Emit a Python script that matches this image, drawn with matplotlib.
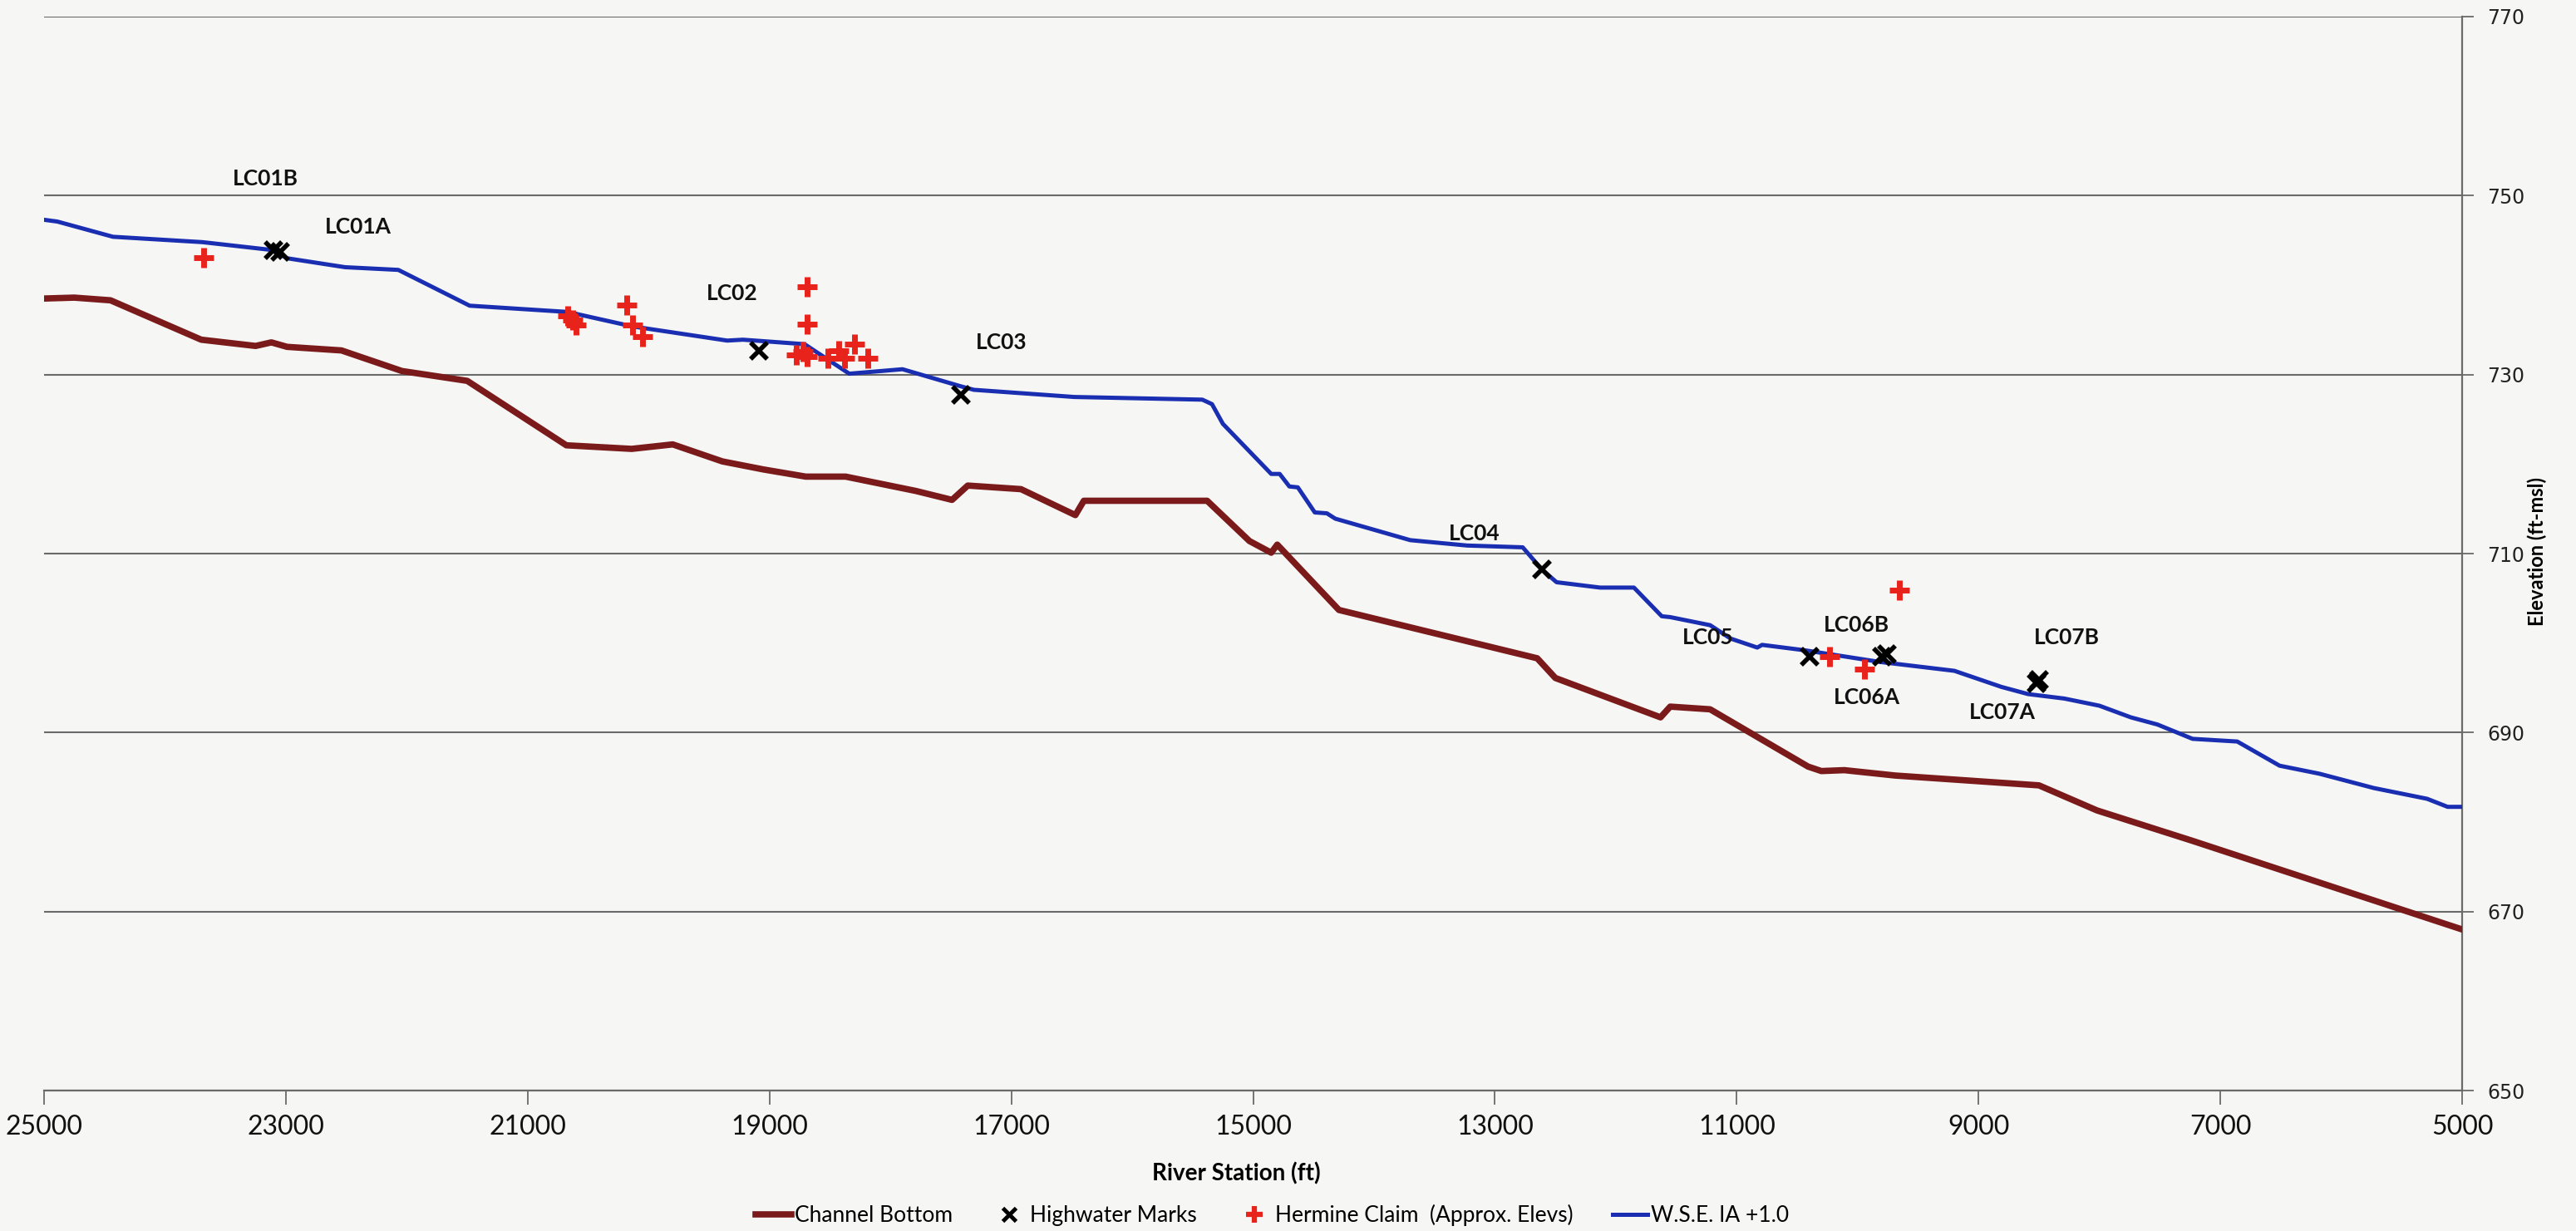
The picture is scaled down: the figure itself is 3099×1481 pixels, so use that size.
import numpy as np
import matplotlib
matplotlib.use('Agg')
import matplotlib.pyplot as plt
from matplotlib.lines import Line2D

# channel bottom profile
cb_sta = [25000, 24750, 24450, 23700, 23250, 23120, 22990, 22540, 22040, 21500,
          20680, 20140, 19800, 19390, 19050, 18700, 18490, 18370, 17790, 17490,
          17360, 16920, 16470, 16400, 15380, 15030, 14850, 14800, 14290, 12650,
          12500, 11630, 11550, 11220, 10410, 10300, 10110, 9690, 8500, 8020,
          7230, 5000]
cb_elev = [738.5, 738.6, 738.3, 733.9, 733.2, 733.6, 733.1, 732.7, 730.4, 729.3,
           722.1, 721.7, 722.2, 720.3, 719.4, 718.6, 718.6, 718.6, 717.0, 716.0,
           717.6, 717.2, 714.3, 715.9, 715.9, 711.4, 710.1, 711.0, 703.7, 698.3,
           696.1, 691.7, 692.9, 692.6, 686.2, 685.7, 685.8, 685.2, 684.1, 681.3,
           677.9, 668.0]

# water surface elevation
ws_sta = [25000, 24890, 24430, 23690, 23100, 22990, 22510, 22070, 21760, 21480,
          20670, 20140, 19350, 19220, 18710, 18340, 17900, 17420, 17310, 16480,
          15420, 15340, 15250, 14850, 14780, 14700, 14630, 14490, 14390, 14320,
          13700, 13230, 12770, 12610, 12490, 12130, 11850, 11620, 11550, 11220,
          11050, 10830, 10790, 10440, 9820, 9200, 8810, 8590, 8290, 8000,
          7740, 7520, 7230, 6860, 6510, 6180, 5730, 5290, 5120, 5000]
ws_elev = [747.3, 747.1, 745.4, 744.8, 743.9, 743.0, 742.0, 741.7, 739.6, 737.7,
           737.0, 735.4, 733.8, 733.9, 733.4, 730.1, 730.6, 728.7, 728.3, 727.5,
           727.2, 726.7, 724.5, 718.9, 718.9, 717.5, 717.4, 714.6, 714.5, 713.9,
           711.5, 710.9, 710.7, 708.2, 706.8, 706.2, 706.2, 703.0, 702.9, 702.0,
           700.5, 699.5, 699.8, 699.2, 697.9, 696.9, 695.1, 694.3, 693.8, 693.0,
           691.7, 690.9, 689.3, 689.0, 686.3, 685.4, 683.8, 682.6, 681.7, 681.7]

# highwater marks
hwm_sta = [23100, 23050, 19090, 17420, 12610, 10400, 9800, 9760, 8520, 8500]
hwm_elev = [743.9, 743.7, 732.7, 727.7, 708.2, 698.5, 698.5, 698.8, 695.5, 695.9]

# Hermine claim points
hc_sta = [23680, 20670, 20630, 20600, 20180, 20130, 20050, 18690, 18690, 18780,
          18720, 18690, 18520, 18430, 18380, 18300, 18190, 10230, 9940, 9655]
hc_elev = [743.1, 736.6, 736.1, 735.5, 737.8, 735.5, 734.2, 739.8, 735.6, 732.2,
           732.6, 732.0, 731.8, 732.7, 731.8, 733.4, 731.8, 698.5, 697.1, 705.9]

# point labels
lbl_text = ['LC01B', 'LC01A', 'LC02', 'LC03', 'LC04', 'LC05', 'LC06B', 'LC06A', 'LC07B', 'LC07A']
lbl_sta = [23170, 22400, 19310, 17080, 13170, 11240, 10010, 9920, 8270, 8800]
lbl_elev = [751.9, 746.5, 739.1, 733.6, 712.2, 700.6, 702.0, 693.9, 700.6, 692.3]

narrow = ['Lato', 'DejaVu Sans']
bg = '#f6f6f4'
brown = '#7a1a1a'
blue = '#1a2eb2'
red = '#e8231c'
grid_c = '#6a6a6a'

fig = plt.figure(figsize=(30.99, 14.81), dpi=100, facecolor=bg)
ax = fig.add_axes([0.0171, 0.1141, 0.9387, 0.8724])
ax.set_facecolor(bg)

ax.plot(cb_sta, cb_elev, color=brown, lw=5.5, zorder=3)
ax.plot(ws_sta, ws_elev, color=blue, lw=3.6, zorder=4)
ax.plot(hc_sta, hc_elev, ls='none', marker='+', ms=17, mew=5, color=red, zorder=5)
ax.plot(hwm_sta, hwm_elev, ls='none', marker='x', ms=15, mew=4, color='black', zorder=6)

for t, s, e in zip(lbl_text, lbl_sta, lbl_elev):
    ax.text(s, e, t, ha='center', va='center', fontsize=19, fontweight='bold',
            family=narrow, color='#111111', zorder=7)

ax.set_xlim(25000, 5000)
ax.set_ylim(650, 770)
ax.set_xticks(np.arange(25000, 4999, -2000))
ax.set_xticklabels([str(v) for v in range(25000, 4999, -2000)], family=narrow, fontsize=23)
ax.set_yticks(np.arange(650, 771, 20))
ax.yaxis.tick_right()
ax.tick_params(axis='y', direction='out', length=10, width=1.3, color=grid_c,
               labelsize=17, pad=12, labelcolor='#222222')
ax.tick_params(axis='x', direction='out', length=12, width=1.3, color=grid_c, pad=9,
               labelcolor='#111111')
ax.grid(axis='y', color=grid_c, lw=1.5)
for sp in ['left', 'top']:
    ax.spines[sp].set_visible(False)
for sp in ['right', 'bottom']:
    ax.spines[sp].set_color(grid_c)
    ax.spines[sp].set_linewidth(1.6)

ax.set_xlabel('River Station (ft)', family=narrow, fontsize=20, fontweight='bold')
ax.xaxis.set_label_coords(0.493, -0.067)
ax.set_ylabel('Elevation (ft-msl)', family=narrow, fontsize=17, fontweight='bold',
              rotation=90, va='center', ha='center')
ax.yaxis.set_label_coords(1.031, 0.502)

handles = [
    Line2D([], [], color=brown, lw=5.5),
    Line2D([], [], ls='none', marker='x', ms=11, mew=3.5, color='black'),
    Line2D([], [], ls='none', marker='+', ms=14, mew=4.5, color=red),
    Line2D([], [], color=blue, lw=3.6),
]
names = ['Channel Bottom', 'Highwater Marks', 'Hermine Claim  (Approx. Elevs)', 'W.S.E. IA +1.0']
fig.legend(handles, names, loc='center', bbox_to_anchor=(0.494, 0.0128), ncol=4,
           frameon=False, prop={'family': narrow, 'size': 19}, handlelength=1.6,
           handletextpad=0.15, columnspacing=1.8)

fig.savefig('out.png', dpi=100, facecolor=bg)
